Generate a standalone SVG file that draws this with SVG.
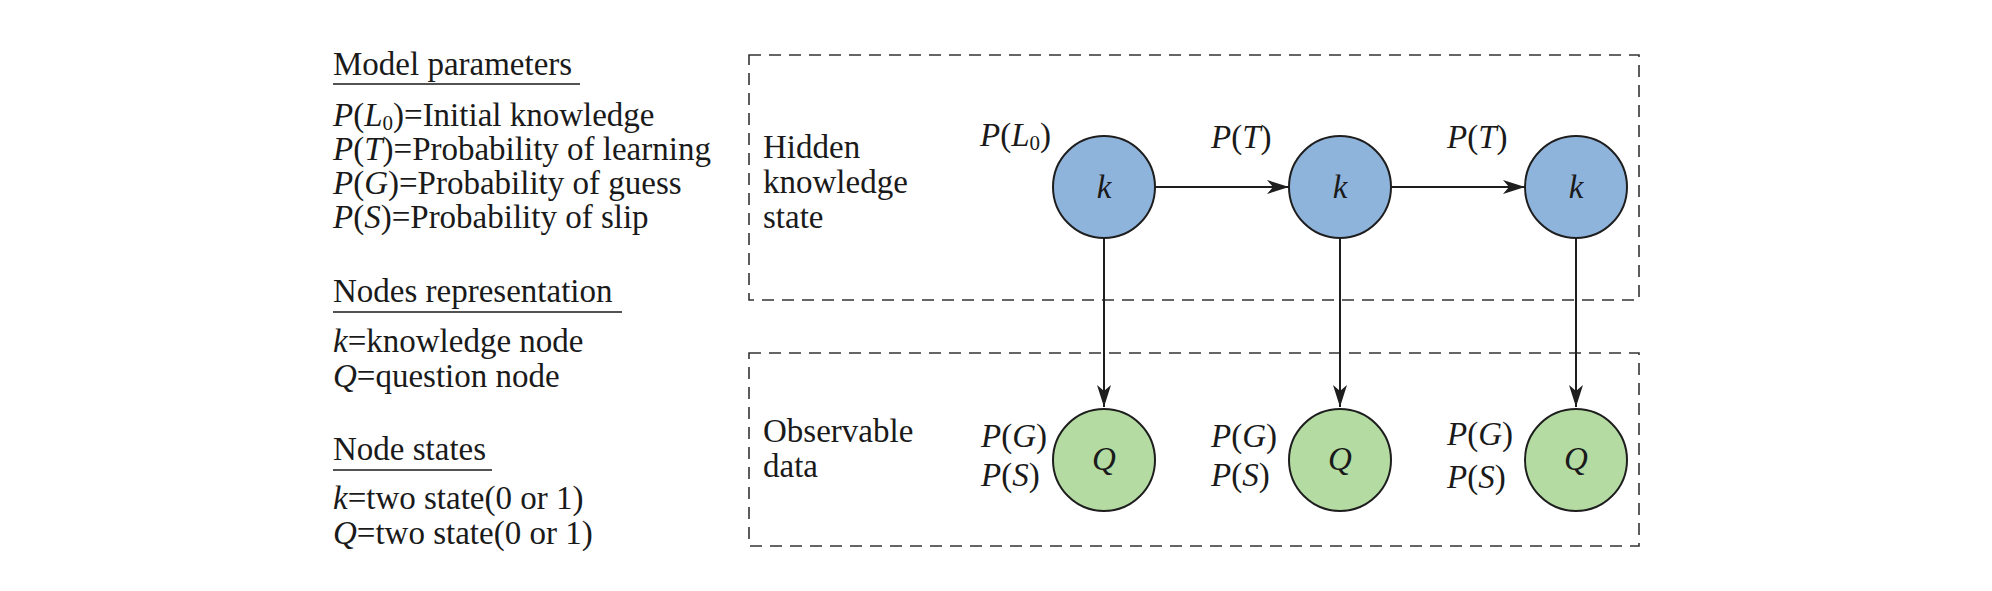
<svg xmlns="http://www.w3.org/2000/svg" width="1992" height="591" viewBox="0 0 1992 591">
<defs>
<style>
text{font-family:"Liberation Serif","Times New Roman",serif;font-size:33px;fill:#1a1a1a}
.i{font-style:italic}
.sub{font-size:21px}
.ul{stroke:#1a1a1a;stroke-width:1.6}
.box{fill:none;stroke:#333;stroke-width:1.6;stroke-dasharray:12 8}
.kn{fill:#8fb4dc;stroke:#1e1e1e;stroke-width:2}
.qn{fill:#b4dca2;stroke:#1e1e1e;stroke-width:2}
.edge{stroke:#1e1e1e;stroke-width:2;fill:none}
.mid{text-anchor:middle}
</style>
<marker id="ah" viewBox="0 0 22 14" refX="22" refY="7" markerWidth="22" markerHeight="14" markerUnits="userSpaceOnUse" orient="auto">
<path d="M0,0 L22,7 L0,14 L6,7 Z" fill="#1e1e1e"/>
</marker>
</defs>
<rect width="1992" height="591" fill="#ffffff"/>

<g id="legend">
<text x="333" y="75">Model parameters</text>
<line class="ul" x1="333" y1="84" x2="580" y2="84"/>
<text x="333" y="126"><tspan class="i">P</tspan>(<tspan class="i">L</tspan><tspan class="sub" dy="4">0</tspan><tspan dy="-4">)=Initial knowledge</tspan></text>
<text x="333" y="160"><tspan class="i">P</tspan>(<tspan class="i">T</tspan>)=Probability of learning</text>
<text x="333" y="194"><tspan class="i">P</tspan>(<tspan class="i">G</tspan>)=Probability of guess</text>
<text x="333" y="228"><tspan class="i">P</tspan>(<tspan class="i">S</tspan>)=Probability of slip</text>
<text x="333" y="302">Nodes representation</text>
<line class="ul" x1="333" y1="312" x2="622" y2="312"/>
<text x="333" y="352"><tspan class="i">k</tspan>=knowledge node</text>
<text x="333" y="387"><tspan class="i">Q</tspan>=question node</text>
<text x="333" y="460">Node states</text>
<line class="ul" x1="333" y1="470" x2="492" y2="470"/>
<text x="333" y="509"><tspan class="i">k</tspan>=two state(0 or 1)</text>
<text x="333" y="544"><tspan class="i">Q</tspan>=two state(0 or 1)</text>
</g>

<g id="hidden-box">
<rect class="box" x="749" y="55" width="890" height="245"/>
<text x="763" y="158">Hidden</text>
<text x="763" y="193">knowledge</text>
<text x="763" y="228">state</text>
</g>
<g id="observable-box">
<rect class="box" x="749" y="353" width="890" height="193"/>
<text x="763" y="442">Observable</text>
<text x="763" y="477">data</text>
</g>

<g id="connectors">
<line class="edge" x1="1155" y1="187" x2="1289" y2="187" marker-end="url(#ah)"/>
<line class="edge" x1="1391" y1="187" x2="1525" y2="187" marker-end="url(#ah)"/>
<line class="edge" x1="1104" y1="238" x2="1104" y2="407" marker-end="url(#ah)"/>
<line class="edge" x1="1340" y1="238" x2="1340" y2="407" marker-end="url(#ah)"/>
<line class="edge" x1="1576" y1="238" x2="1576" y2="407" marker-end="url(#ah)"/>
<text x="1211" y="148"><tspan class="i">P</tspan>(<tspan class="i">T</tspan>)</text>
<text x="1447" y="148"><tspan class="i">P</tspan>(<tspan class="i">T</tspan>)</text>
</g>

<g id="k1">
<circle class="kn" cx="1104" cy="187" r="51"/>
<text class="i mid" x="1104" y="198">k</text>
<text x="980" y="146"><tspan class="i">P</tspan>(<tspan class="i">L</tspan><tspan class="sub" dy="4">0</tspan><tspan dy="-4">)</tspan></text>
</g>
<g id="k2">
<circle class="kn" cx="1340" cy="187" r="51"/>
<text class="i mid" x="1340" y="198">k</text>
</g>
<g id="k3">
<circle class="kn" cx="1576" cy="187" r="51"/>
<text class="i mid" x="1576" y="198">k</text>
</g>
<g id="q1">
<circle class="qn" cx="1104" cy="460" r="51"/>
<text class="i mid" x="1104" y="470">Q</text>
<text x="981" y="447"><tspan class="i">P</tspan>(<tspan class="i">G</tspan>)</text>
<text x="981" y="486"><tspan class="i">P</tspan>(<tspan class="i">S</tspan>)</text>
</g>
<g id="q2">
<circle class="qn" cx="1340" cy="460" r="51"/>
<text class="i mid" x="1340" y="470">Q</text>
<text x="1211" y="447"><tspan class="i">P</tspan>(<tspan class="i">G</tspan>)</text>
<text x="1211" y="486"><tspan class="i">P</tspan>(<tspan class="i">S</tspan>)</text>
</g>
<g id="q3">
<circle class="qn" cx="1576" cy="460" r="51"/>
<text class="i mid" x="1576" y="470">Q</text>
<text x="1447" y="445"><tspan class="i">P</tspan>(<tspan class="i">G</tspan>)</text>
<text x="1447" y="488"><tspan class="i">P</tspan>(<tspan class="i">S</tspan>)</text>
</g>
</svg>
